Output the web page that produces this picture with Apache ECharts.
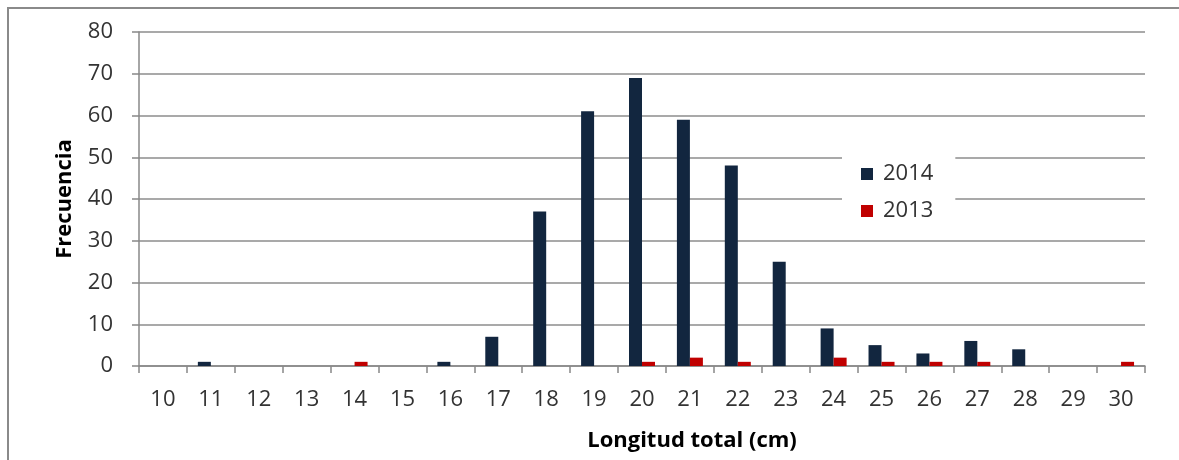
<!DOCTYPE html>
<html>
<head>
<meta charset="utf-8">
<script src="https://cdn.jsdelivr.net/npm/echarts@6/dist/echarts.min.js"></script>
<style>
html,body{margin:0;padding:0;background:#fff;}
#chart{width:1179px;height:460px;}
</style>
</head>
<body>
<div id="chart"></div>
<script>
const categories = ['10','11','12','13','14','15','16','17','18','19','20','21','22','23','24','25','26','27','28','29','30'];
const values2014 = [0,1,0,0,0,0,1,7,37,61,69,59,48,25,9,5,3,6,4,0,0];
const values2013 = [0,0,0,0,1,0,0,0,0,0,1,2,1,0,2,1,1,1,0,0,1];
const seriesNames = ['2014','2013'];

const FONT = '"Open Sans", "Noto Sans", sans-serif';
const chart = echarts.init(document.getElementById('chart'), null, {renderer:'canvas'});
chart.setOption({
  animation:false,
  backgroundColor:'#fff',
  graphic:[{
    type:'rect',
    shape:{x:8,y:8,width:1200,height:500},
    style:{fill:'none',stroke:'#8a8a8a',lineWidth:2},
    silent:true,
    z:-1
  }],
  grid:{left:139,right:34,top:32,bottom:94},
  legend:{
    orient:'vertical',
    left:842,
    top:150,
    backgroundColor:'#fff',
    padding:[13,22,9,19],
    itemGap:15,
    itemWidth:12,
    itemHeight:12,
    icon:'rect',
    data:seriesNames,
    textStyle:{fontFamily:FONT,fontSize:22,color:'#333',padding:[0,0,0,5]}
  },
  xAxis:{
    type:'category',
    data:categories,
    name:'Longitud total (cm)',
    nameLocation:'middle',
    nameGap:64,
    nameTextStyle:{fontFamily:FONT,fontSize:22,fontWeight:'bold',color:'#000',padding:[0,0,0,100]},
    axisLine:{lineStyle:{color:'#888',width:1.5}},
    axisTick:{show:true,length:7,lineStyle:{color:'#888',width:1.5},alignWithLabel:false},
    axisLabel:{fontFamily:FONT,fontSize:22,color:'#333',margin:23,interval:0}
  },
  yAxis:{
    type:'value',
    min:0,max:80,interval:10,
    name:'Frecuencia',
    nameLocation:'middle',
    nameGap:63,
    nameRotate:90,
    nameTextStyle:{fontFamily:FONT,fontSize:22,fontWeight:'bold',color:'#000'},
    axisLine:{show:true,lineStyle:{color:'#888',width:1.5}},
    axisTick:{show:true,length:7,lineStyle:{color:'#888',width:1.5}},
    axisLabel:{fontFamily:FONT,fontSize:22,color:'#333',margin:26},
    splitLine:{show:true,lineStyle:{color:'#8c8c8c',width:1.5}}
  },
  series:[
    {name:seriesNames[0],type:'bar',data:values2014,barWidth:13,barGap:'0%',
     itemStyle:{color:'#12263f'}},
    {name:seriesNames[1],type:'bar',data:values2013,barWidth:13,barGap:'0%',
     itemStyle:{color:'#c00000'}}
  ]
});
</script>
</body>
</html>
